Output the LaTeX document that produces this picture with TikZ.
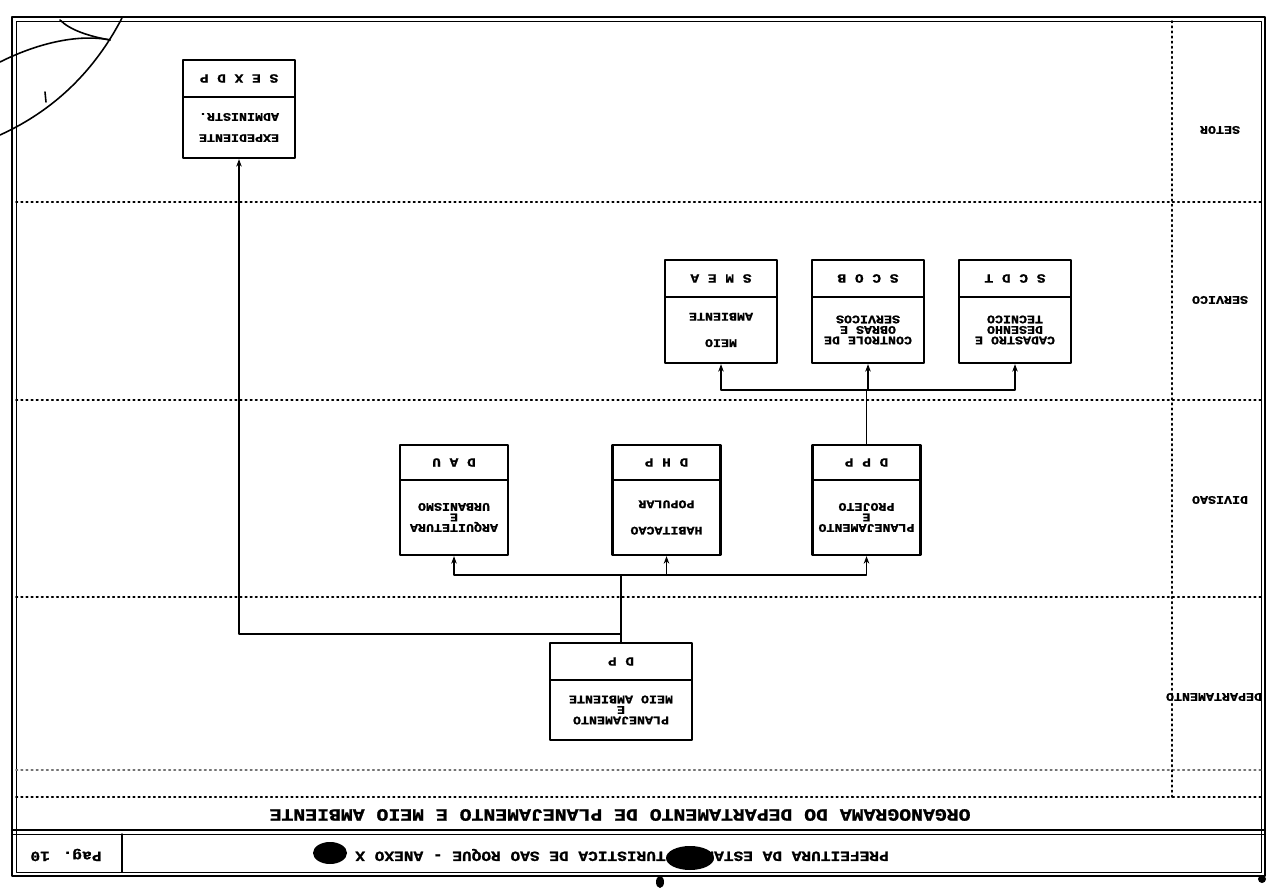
\documentclass[tikz,border=0pt]{standalone}
\usepackage{fontspec}
\newfontfamily\prtfont{Liberation Mono}[FakeStretch=1.15,FakeBold=1.2]
\usetikzlibrary{arrows.meta}

\begin{document}
\begin{tikzpicture}[x=0.02cm,y=-0.02cm,>={Stealth[length=1.5mm,width=1.1mm]},line cap=round,line join=round,
  band/.style={dotted,line width=0.9pt},
  conn/.style={line width=0.7pt},
  codebox/.style={draw,line width=1.3pt,rotate=180,inner sep=0pt,font=\prtfont\bfseries\fontsize{7.2}{8}\selectfont},
  namebox/.style={draw,line width=1.3pt,rotate=180,inner sep=0pt,align=center,font=\prtfont\bfseries\fontsize{6.6}{6}\selectfont},
  rowlabel/.style={rotate=180,font=\prtfont\bfseries\fontsize{6.6}{8}\selectfont},
  headline/.style={rotate=180,font=\prtfont\bfseries\fontsize{#1}{10}\selectfont}]
\useasboundingbox (0,0) rectangle (1270,888);
% frame
\draw[line width=1.2pt] (12,17) rectangle (1265,876);
\draw[line width=0.5pt] (16,21) rectangle (1261,872);
\draw[line width=1.2pt] (12,830) -- (1265,830);
\draw[line width=0.5pt] (12,834) -- (1265,834);
\draw[line width=0.8pt] (122,834) -- (122,872);
% bands
\draw[band] (16,202) -- (1261,202);
\draw[band] (16,400) -- (1261,400);
\draw[band] (16,597) -- (1261,597);
\draw[band,black!55] (16,770) -- (1261,770);
\draw[band] (16,797) -- (1261,797);
\draw[band] (1172,21) -- (1172,797);
% row labels
\node[rowlabel] (lsetor) at (1220,130) {SETOR};
\node[rowlabel] (lservico) at (1220,300) {SERVICO};
\node[rowlabel] (ldivisao) at (1220,500) {DIVISAO};
\node[rowlabel] (ldepto) at (1214,697) {DEPARTAMENTO};
% footer
\node[headline=9.8] (titulo) at (620,815) {ORGANOGRAMA DO DEPARTAMENTO DE PLANEJAMENTO E MEIO AMBIENTE};
\node[headline=8] (anexo) at (622,855) {PREFEITURA DA ESTANCIA TURISTICA DE SAO ROQUE - ANEXO X};
\node[headline=8] (pag) at (66,855) {Pag. 10};
% departamento
\node[codebox,minimum width=2.84cm,minimum height=0.74cm] (dpcode) at (621,661.5) {D P};
\node[namebox,minimum width=2.84cm,minimum height=1.2cm] (dp) at (621,710) {PLANEJAMENTO\\E\\MEIO AMBIENTE};
% divisoes
\node[codebox,minimum width=2.16cm,minimum height=0.7cm] (daucode) at (454,462.5) {D A U};
\node[namebox,minimum width=2.16cm,minimum height=1.5cm] (dau) at (454,517.5) {ARQUITETURA\\E\\URBANISMO};
\node[codebox,minimum width=2.16cm,minimum height=0.7cm] (dhpcode) at (666.5,462.5) {D H P};
\node[namebox,minimum width=2.16cm,minimum height=1.5cm] (dhp) at (666.5,517.5) {HABITACAO\\[9pt]POPULAR};
\node[codebox,minimum width=2.16cm,minimum height=0.7cm] (dppcode) at (866.5,462.5) {D P P};
\node[namebox,minimum width=2.16cm,minimum height=1.5cm] (dpp) at (866.5,517.5) {PLANEJAMENTO\\E\\PROJETO};
% servicos
\node[codebox,minimum width=2.24cm,minimum height=0.74cm] (smeacode) at (721,278.5) {S M E A};
\node[namebox,minimum width=2.24cm,minimum height=1.32cm] (smea) at (721,330) {MEIO\\[9pt]AMBIENTE};
\node[codebox,minimum width=2.24cm,minimum height=0.74cm] (scobcode) at (868,278.5) {S C O B};
\node[namebox,minimum width=2.24cm,minimum height=1.32cm] (scob) at (868,330) {CONTROLE DE\\OBRAS E\\SERVICOS};
\node[codebox,minimum width=2.24cm,minimum height=0.74cm] (scdtcode) at (1015,278.5) {S C D T};
\node[namebox,minimum width=2.24cm,minimum height=1.32cm] (scdt) at (1015,330) {CADASTRO E\\DESENHO\\TECNICO};
% setor
\node[codebox,minimum width=2.24cm,minimum height=0.74cm] (sexcode) at (239,78.5) {S E X D P};
\node[namebox,minimum width=2.24cm,minimum height=1.22cm] (sex) at (239,127.5) {EXPEDIENTE\\[6pt]ADMINISTR.};
% ligacoes
\coordinate (dvj) at (621,575);
\coordinate (svj) at (866.5,390);
\coordinate (sxj) at (621,634);
\draw[conn] (dpcode.south) -- (dvj);
\draw[conn,->] (dvj) -| (dau.north);
\draw[conn,->] (dvj) -| (dpp.north);
\draw[conn,->] (dhp.north |- dvj) -- (dhp.north);
\draw[conn,->] (sxj) -| (sex.north);
\draw[conn] (dppcode.south) -- (svj);
\draw[conn,->] (svj) -| (smea.north);
\draw[conn,->] (svj) -| (scdt.north);
\draw[conn,->] (scob.north |- svj) -- (scob.north);
% canto
\draw[line width=0.9pt] (0,62) .. controls (40,42) and (80,34) .. (110,40);
\draw[line width=0.9pt] (0,135) .. controls (55,110) and (95,70) .. (122,18);
\draw[line width=0.9pt] (60,20) .. controls (70,30) and (88,36) .. (110,40);
\draw[line width=0.9pt] (45,92) -- (46,102);
% manchas
\fill (330,853) ellipse (17 and 11);
\fill (690,858) ellipse (24 and 12);
\fill (660,882) ellipse (4 and 6);
\fill (1262,879) ellipse (4 and 4);
\end{tikzpicture}
\end{document}
